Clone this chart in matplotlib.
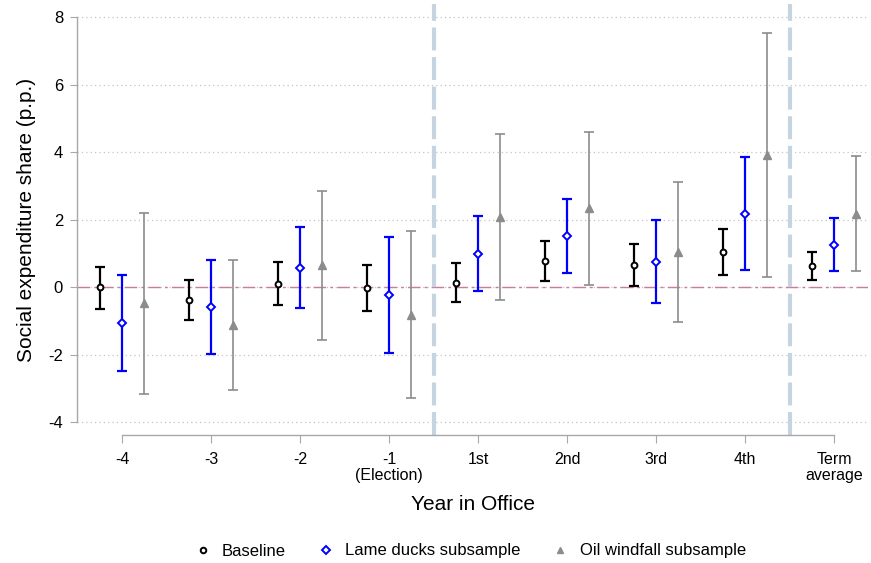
import matplotlib
matplotlib.use("Agg")
import matplotlib.pyplot as plt
from matplotlib.lines import Line2D
import numpy as np

plt.rcParams['font.family'] = ['Liberation Sans', 'DejaVu Sans']
plt.rcParams['axes.unicode_minus'] = False

# Categories on the x axis
labels = ['-4', '-3', '-2', '-1\n(Election)', '1st', '2nd', '3rd', '4th', 'Term\naverage']

# Point estimates and 95% CI bounds per series
base_est = [0.00, -0.37, 0.11, -0.03, 0.13, 0.78, 0.65, 1.05, 0.64]
base_lo = [-0.65, -0.96, -0.53, -0.71, -0.45, 0.19, 0.03, 0.375, 0.23]
base_hi = [0.60, 0.23, 0.75, 0.65, 0.72, 1.37, 1.28, 1.72, 1.05]

lame_est = [-1.05, -0.59, 0.58, -0.22, 1.00, 1.51, 0.76, 2.18, 1.26]
lame_lo = [-2.47, -1.98, -0.61, -1.94, -0.12, 0.42, -0.46, 0.52, 0.49]
lame_hi = [0.375, 0.81, 1.78, 1.50, 2.11, 2.62, 2.00, 3.86, 2.05]

oil_est = [-0.48, -1.12, 0.66, -0.82, 2.07, 2.34, 1.04, 3.91, 2.17]
oil_lo = [-3.16, -3.05, -1.55, -3.28, -0.38, 0.08, -1.03, 0.30, 0.48]
oil_hi = [2.21, 0.82, 2.84, 1.66, 4.55, 4.59, 3.12, 7.54, 3.90]

x = np.arange(len(labels))

fig = plt.figure(figsize=(8.71, 5.63), dpi=100)
ax = fig.add_axes([77 / 871, 128 / 563, (868 - 77) / 871, (559 - 128) / 563])

# grid, zero line and period separators
for yv in range(-4, 9, 2):
    ax.axhline(yv, color='#c4c4c4', lw=0.9, ls=(0, (1, 2.5)), zorder=0)
ax.axhline(0, color='#c97ba0', lw=1.0, ls=(0, (9, 3, 2, 3)), zorder=1)
for xv in [3.5, 7.5]:
    ax.axvline(xv, color='#c6d3e0', lw=3.0, ls=(0, (5.5, 1.6)), zorder=1)


def draw(xs, est, lo, hi, color, marker, ms, lw, mfc, mew):
    est = np.array(est)
    err = [est - np.array(lo), np.array(hi) - est]
    ax.errorbar(xs, est, yerr=err, fmt='none', ecolor=color, elinewidth=lw,
                capsize=3.5, capthick=lw, zorder=3)
    ax.plot(xs, est, ls='none', marker=marker, ms=ms, mfc=mfc, mec=color,
            mew=mew, zorder=4)


off = 0.25
draw(x - off, base_est, base_lo, base_hi, 'black', 'o', 4.2, 1.6, 'white', 1.4)
draw(x, lame_est, lame_lo, lame_hi, '#0000ff', 'D', 4.0, 1.6, 'white', 1.4)
draw(x + off, oil_est, oil_lo, oil_hi, '#8c8c8c', '^', 6.0, 1.2, '#8c8c8c', 1.0)

ax.set_xlim(-0.506, 8.38)
ax.set_ylim(-4.375, 8.39)

for s in ['top', 'right']:
    ax.spines[s].set_visible(False)
ax.spines['left'].set_bounds(-4, 8)
ax.spines['bottom'].set_bounds(0, 8)
for s in ['left', 'bottom']:
    ax.spines[s].set_color('#a8a8a8')
    ax.spines[s].set_linewidth(1.0)

ax.set_yticks(range(-4, 9, 2))
ax.set_xticks(x)
ax.set_xticklabels(labels, fontsize=11.5, linespacing=1.15)
ax.tick_params(axis='y', labelsize=12, length=5, color='#a8a8a8', pad=5)
ax.tick_params(axis='x', length=6, color='#a8a8a8', pad=6)

ax.set_ylabel('Social expenditure share (p.p.)', fontsize=15, labelpad=9)
ax.set_xlabel('Year in Office', fontsize=15, labelpad=8)

handles = [
    Line2D([], [], ls='none', marker='o', ms=4.0, mfc='white', mec='black', mew=1.4),
    Line2D([], [], ls='none', marker='D', ms=3.8, mfc='white', mec='#0000ff', mew=1.4),
    Line2D([], [], ls='none', marker='^', ms=5.0, mfc='#8c8c8c', mec='#8c8c8c'),
]
fig.legend(handles, ['Baseline', 'Lame ducks subsample', 'Oil windfall subsample'],
           loc='center', bbox_to_anchor=(470 / 871, 1 - 551 / 563), ncol=3,
           frameon=False, fontsize=12, handletextpad=0.65, columnspacing=1.9,
           handlelength=1.0)

fig.savefig('out.png', dpi=100)
